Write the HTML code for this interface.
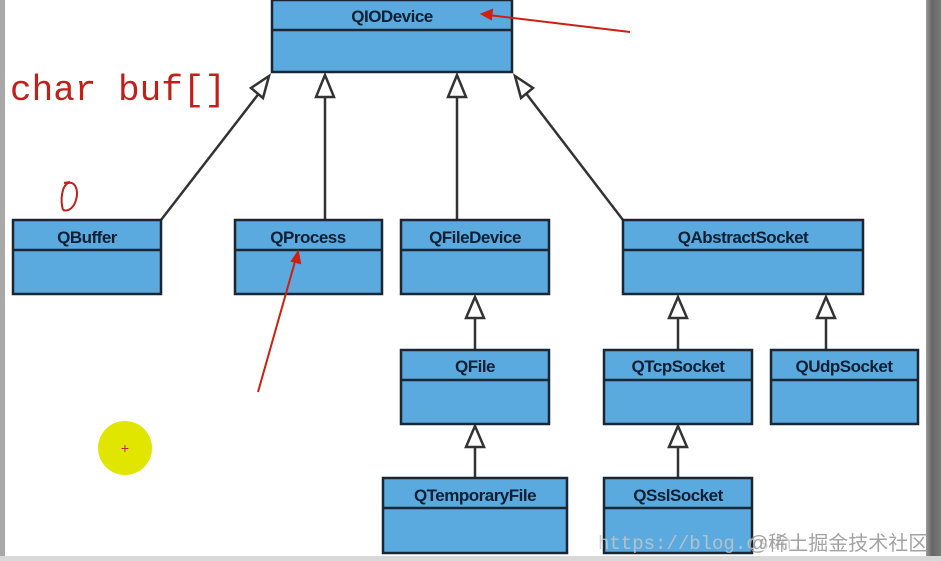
<!DOCTYPE html>
<html><head><meta charset="utf-8"><style>
html,body{margin:0;padding:0;background:#fff;}
svg{display:block;}
.t{font-family:"Liberation Sans",Arial,sans-serif;font-weight:bold;font-size:17px;fill:#0d1f33;text-anchor:middle;letter-spacing:-0.5px;}
</style></head><body>
<svg width="941" height="561" viewBox="0 0 941 561" xmlns="http://www.w3.org/2000/svg">
<defs>
<linearGradient id="g" x1="0" x2="1"><stop offset="0" stop-color="#9a9a9a"/><stop offset="0.4" stop-color="#666"/><stop offset="1" stop-color="#7a7a7a"/></linearGradient>
</defs>
<rect width="941" height="561" fill="#fff"/>
<rect x="0" y="0" width="5" height="561" fill="#a8a8a8"/>
<rect x="926" y="0" width="15" height="561" fill="url(#g)"/>
<rect x="0" y="556" width="941" height="5" fill="#d8d8d8"/>

<g stroke="#333" stroke-width="2.5" fill="none">
<line x1="161" y1="220" x2="260" y2="92"/>
<line x1="325" y1="220" x2="325" y2="98"/>
<line x1="457" y1="220" x2="457" y2="98"/>
<line x1="623" y1="220" x2="525" y2="92"/>
<line x1="475" y1="350" x2="475" y2="318"/>
<line x1="678" y1="350" x2="678" y2="318"/>
<line x1="826" y1="350" x2="826" y2="318"/>
<line x1="475" y1="478" x2="475" y2="447"/>
<line x1="678" y1="478" x2="678" y2="447"/>
</g>
<g stroke="#333" stroke-width="2.5" fill="#fff">
<polygon points="269,76 263,98 251,88"/>
<polygon points="325,75 316,97 334,97"/>
<polygon points="457,75 448,97 466,97"/>
<polygon points="515,76 521,98 533,88"/>
<polygon points="475,297 466,318 484,318"/>
<polygon points="678,297 669,318 687,318"/>
<polygon points="826,297 817,318 835,318"/>
<polygon points="475,426 466,447 484,447"/>
<polygon points="678,426 669,447 687,447"/>
</g>

<g stroke="#1a2633" stroke-width="2.5" fill="#5aaae0">
<rect x="272" y="0" width="240" height="72"/><line x1="272" y1="30" x2="512" y2="30"/>
<rect x="13" y="220" width="148" height="74"/><line x1="13" y1="250" x2="161" y2="250"/>
<rect x="235" y="220" width="147" height="74"/><line x1="235" y1="250" x2="382" y2="250"/>
<rect x="401" y="220" width="148" height="74"/><line x1="401" y1="250" x2="549" y2="250"/>
<rect x="623" y="220" width="240" height="74"/><line x1="623" y1="250" x2="863" y2="250"/>
<rect x="401" y="350" width="148" height="74"/><line x1="401" y1="380" x2="549" y2="380"/>
<rect x="604" y="350" width="148" height="74"/><line x1="604" y1="380" x2="752" y2="380"/>
<rect x="771" y="350" width="147" height="74"/><line x1="771" y1="380" x2="918" y2="380"/>
<rect x="383" y="478" width="184" height="75"/><line x1="383" y1="508" x2="567" y2="508"/>
<rect x="604" y="478" width="148" height="75"/><line x1="604" y1="508" x2="752" y2="508"/>
</g>
<text class="t" x="392" y="22">QIODevice</text>
<text class="t" x="87" y="243">QBuffer</text>
<text class="t" x="308" y="243">QProcess</text>
<text class="t" x="475" y="243">QFileDevice</text>
<text class="t" x="743" y="243">QAbstractSocket</text>
<text class="t" x="475" y="372">QFile</text>
<text class="t" x="678" y="372">QTcpSocket</text>
<text class="t" x="844" y="372">QUdpSocket</text>
<text class="t" x="475" y="501">QTemporaryFile</text>
<text class="t" x="678" y="501">QSslSocket</text>

<text x="10" y="100" font-family="Liberation Mono,monospace" font-size="36" fill="#c0201a">char buf[]</text>
<path d="M63,210 C60,200 62,186 68,183 C75,181 79,190 76,200 C74,207 69,212 63,210 M64,183 L70,182" stroke="#c0201a" stroke-width="2" fill="none"/>
<g stroke="#cc2010" stroke-width="2" fill="#cc2010">
<line x1="630" y1="32" x2="488" y2="15"/>
<polygon points="482,14 492,10 491,19"/>
<line x1="258" y1="392" x2="296" y2="258"/>
<polygon points="298,252 300,263 292,261"/>
</g>
<circle cx="125" cy="448" r="27" fill="#e0e600"/>
<text x="125" y="453" font-family="Liberation Sans,sans-serif" font-size="14" fill="#c02050" text-anchor="middle">+</text>
<text x="598" y="549" font-family="Liberation Mono,monospace" font-size="19" fill="#c8c8c8" opacity="0.8">https://blog.csdn.</text>
<text x="748" y="550" font-family="Liberation Sans,'Noto Sans CJK SC',sans-serif" font-size="20" fill="#9a9a9a" opacity="0.9">@稀土掘金技术社区</text>
</svg>
</body></html>
